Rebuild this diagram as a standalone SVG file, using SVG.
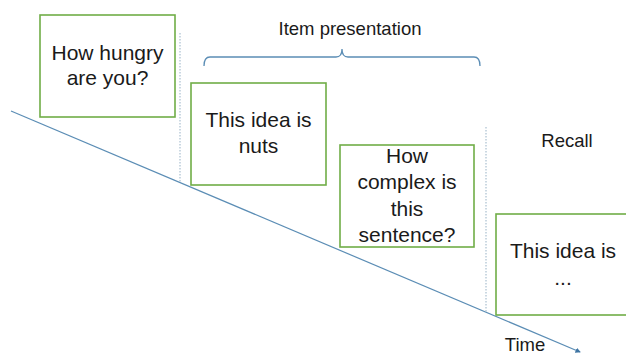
<svg xmlns="http://www.w3.org/2000/svg" width="626" height="356" viewBox="0 0 626 356">
  <style>
    .box { fill: #ffffff; stroke: #70ad47; stroke-width: 1.6; }
    .lbl { font-family: "Liberation Sans", Arial, sans-serif; font-size: 21px; fill: #1a1a1a; text-anchor: middle; }
    .hdr { font-family: "Liberation Sans", Arial, sans-serif; font-size: 18.5px; fill: #1a1a1a; text-anchor: middle; }
    .sep { stroke: #a9bfcf; stroke-width: 1.2; stroke-dasharray: 1.5 1.5; fill: none; }
    .axis { stroke: #5b8db5; stroke-width: 1.2; fill: none; }
    .brace { stroke: #5b8db5; stroke-width: 1.3; fill: none; }
  </style>
  <defs>
    <marker id="tip" viewBox="0 0 6 6" refX="5" refY="3" markerWidth="4.5" markerHeight="4.5" orient="auto">
      <path d="M0,0 L6,3 L0,6 Z" fill="#3f75a3"/>
    </marker>
  </defs>
  <rect width="626" height="356" fill="#ffffff"/>

  <!-- time axis, phase separators and the presentation brace -->
  <g id="connectors">
    <line class="axis" x1="11" y1="111" x2="580" y2="352" marker-end="url(#tip)"/>
    <line class="sep" x1="180" y1="33" x2="180" y2="183"/>
    <line class="sep" x1="486" y1="127" x2="486" y2="312"/>
    <path class="brace" d="M204,66 Q204,57 210,57 L336,57 Q342,57 342,49 Q342,57 348,57 L474,57 Q480,57 480,66"/>
  </g>

  <g id="item-presentation-label">
    <text class="hdr" x="350" y="35">Item presentation</text>
  </g>

  <g id="hunger-question">
    <rect class="box" x="40" y="15" width="135" height="102"/>
    <text class="lbl" x="107.5" y="60">How hungry</text>
    <text class="lbl" x="107.5" y="85">are you?</text>
  </g>

  <g id="item-sentence">
    <rect class="box" x="191" y="83" width="135" height="102"/>
    <text class="lbl" x="258.5" y="127">This idea is</text>
    <text class="lbl" x="258.5" y="153">nuts</text>
  </g>

  <g id="complexity-question">
    <rect class="box" x="340" y="145" width="134" height="102"/>
    <text class="lbl" x="407" y="163">How</text>
    <text class="lbl" x="407" y="189">complex is</text>
    <text class="lbl" x="407" y="215.5">this</text>
    <text class="lbl" x="407" y="241.5">sentence?</text>
  </g>

  <g id="recall-label">
    <text class="hdr" x="567" y="147">Recall</text>
  </g>

  <g id="recall-prompt">
    <rect class="box" x="496" y="214" width="160" height="101"/>
    <text class="lbl" x="563" y="258">This idea is</text>
    <text class="lbl" x="563" y="285">...</text>
  </g>

  <g id="time-label">
    <text class="hdr" x="525" y="351">Time</text>
  </g>
</svg>
